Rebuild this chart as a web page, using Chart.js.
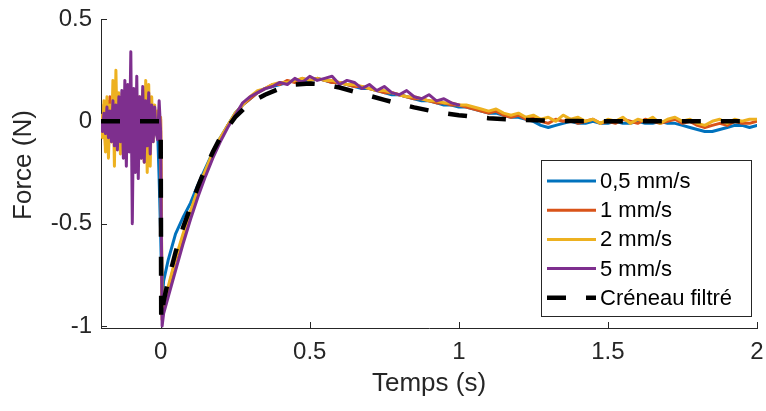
<!DOCTYPE html>
<html><head><meta charset="utf-8">
<script src="https://cdn.jsdelivr.net/npm/chart.js@4/dist/chart.umd.min.js"></script>
<style>html,body{margin:0;padding:0;background:#fff}#wrap{width:766px;height:411px}</style>
</head><body><div id="wrap"><canvas id="c" width="766" height="411"></canvas></div>
<script>
// ---- time axis (s) ----
const tPre = [-0.2,-0.195,-0.19,-0.185,-0.18,-0.175,-0.17,-0.165,-0.16,-0.155,
  -0.15,-0.145,-0.14,-0.135,-0.13,-0.125,-0.12,-0.115,-0.11,-0.105,
  -0.1,-0.095,-0.09,-0.085,-0.08,-0.075,-0.07,-0.065,-0.06,-0.055,
  -0.05,-0.045,-0.04,-0.035,-0.03,-0.025,-0.02,-0.015,-0.01,-0.005,
  0];
const tPost = [0.005,0.01,0.025,0.05,0.075,0.1,0.125,0.15,0.175,0.2,
  0.225,0.25,0.275,0.3,0.325,0.35,0.375,0.4,0.425,0.45,
  0.475,0.5,0.525,0.55,0.575,0.6,0.625,0.65,0.675,0.7,
  0.725,0.75,0.775,0.8,0.825,0.85,0.875,0.9,0.925,0.95,
  0.975,1.0,1.025,1.05,1.075,1.1,1.125,1.15,1.175,1.2,
  1.225,1.25,1.275,1.3,1.325,1.35,1.375,1.4,1.425,1.45,
  1.475,1.5,1.525,1.55,1.575,1.6,1.625,1.65,1.675,1.7,
  1.725,1.75,1.775,1.8,1.825,1.85,1.875,1.9,1.925,1.95,
  1.975,2.0];

// ---- force (N), 0,5 mm/s ----
const f05Pre = [0.01,-0.02,0.02,-0.03,0.02,-0.02,0.03,-0.02,0.02,-0.03,
  0.02,-0.02,0.01,-0.02,0.02,-0.01,0.02,-0.02,0.01,-0.02,
  0.02,-0.01,0.02,-0.02,0.01,-0.02,0.02,-0.01,0.01,-0.02,
  0.02,-0.01,0.01,-0.02,0.01,-0.01,0.01,-0.02,-0.05,-0.28,
  -0.55];
const f05Post = [-0.88,-0.78,-0.68,-0.55,-0.47,-0.40,-0.31,-0.23,-0.15,-0.08,
  -0.02,0.04,0.08,0.11,0.14,0.16,0.17,0.18,0.19,0.20,
  0.20,0.20,0.21,0.20,0.19,0.19,0.18,0.17,0.16,0.16,
  0.15,0.14,0.13,0.13,0.12,0.11,0.10,0.10,0.09,0.08,
  0.08,0.07,0.07,0.06,0.05,0.04,0.04,0.03,0.02,0.02,
  0.01,0.00,-0.02,-0.03,-0.02,-0.01,0.00,-0.01,-0.01,0.00,
  -0.01,-0.01,0.00,-0.01,-0.01,0.00,-0.01,-0.01,0.00,-0.01,
  -0.01,-0.02,-0.03,-0.04,-0.05,-0.05,-0.04,-0.03,-0.02,-0.02,
  -0.03,-0.02];

// ---- force (N), 1 mm/s ----
const f1Pre = [0.02,-0.06,0.08,-0.12,0.10,-0.14,0.12,-0.10,0.06,-0.08,
  0.08,-0.06,0.05,-0.07,0.06,-0.05,0.07,-0.06,0.05,-0.04,
  0.06,-0.05,0.04,-0.06,0.05,-0.04,0.06,-0.05,0.04,-0.03,
  0.05,-0.04,0.03,-0.05,0.04,-0.03,0.03,-0.02,0.02,-0.03,
  0.01];
const f1Post = [-0.97,-0.91,-0.82,-0.68,-0.57,-0.45,-0.34,-0.25,-0.16,-0.09,
  -0.02,0.03,0.08,0.11,0.14,0.16,0.18,0.18,0.20,0.19,
  0.21,0.20,0.21,0.20,0.19,0.19,0.18,0.17,0.17,0.16,
  0.15,0.14,0.14,0.13,0.12,0.11,0.11,0.10,0.09,0.09,
  0.08,0.08,0.07,0.06,0.05,0.04,0.05,0.03,0.02,0.03,
  0.01,0.02,0.00,-0.01,0.01,0.00,0.01,-0.01,0.00,0.01,
  -0.01,0.00,-0.01,0.01,0.00,-0.01,0.01,0.00,-0.01,0.00,
  0.01,-0.01,0.00,-0.02,-0.03,-0.02,-0.01,-0.02,0.00,-0.01,
  -0.01,0.00];

// ---- force (N), 2 mm/s ----
const f2Pre = [0.03,-0.08,0.10,-0.15,0.12,-0.18,0.08,-0.10,0.20,-0.22,
  0.25,-0.12,0.14,-0.16,0.10,-0.08,0.12,-0.14,0.15,-0.10,
  0.08,-0.12,0.14,-0.15,0.10,-0.08,0.12,-0.18,0.15,-0.20,
  0.20,-0.25,0.18,-0.22,0.12,-0.10,0.08,-0.06,0.05,-0.04,
  0.02];
const f2Post = [-0.95,-0.90,-0.81,-0.67,-0.55,-0.44,-0.33,-0.24,-0.15,-0.08,
  -0.02,0.04,0.08,0.12,0.15,0.16,0.18,0.19,0.19,0.20,
  0.21,0.20,0.21,0.20,0.20,0.19,0.18,0.18,0.17,0.16,
  0.15,0.15,0.14,0.13,0.12,0.12,0.11,0.10,0.10,0.09,
  0.09,0.08,0.08,0.07,0.06,0.05,0.06,0.04,0.03,0.04,
  0.02,0.03,0.01,0.02,0.00,0.03,0.01,0.02,0.00,0.01,
  -0.01,0.01,0.00,0.02,-0.01,0.01,0.00,0.02,-0.01,0.01,
  0.02,0.00,0.01,-0.01,-0.02,0.00,0.01,-0.01,0.01,0.00,
  0.01,0.01];

// ---- force (N), 5 mm/s (recorded up to 1 s) ----
const f5Pre = [0.00,-0.05,0.04,-0.06,0.07,-0.08,0.05,-0.10,0.10,-0.12,
  0.08,-0.14,0.12,-0.10,0.15,-0.18,0.20,-0.22,0.18,-0.15,
  0.34,-0.50,0.16,-0.25,0.22,-0.28,0.12,-0.18,0.17,-0.20,
  0.10,-0.12,0.14,-0.16,0.08,-0.10,0.07,-0.06,-0.09,0.10,
  -0.05];
const f5Post = [-1.00,-0.94,-0.86,-0.73,-0.60,-0.48,-0.37,-0.27,-0.18,-0.10,
  -0.03,0.03,0.09,0.12,0.14,0.16,0.17,0.19,0.18,0.21,
  0.19,0.22,0.20,0.21,0.22,0.18,0.20,0.19,0.16,0.18,
  0.15,0.17,0.14,0.13,0.15,0.12,0.11,0.13,0.10,0.11,
  0.09,0.08];

// ---- filtered step (Créneau filtré) ----
const tFilt = [-0.2,0,0.002,0.01,0.025,0.05,0.075,0.1,0.125,0.15,
  0.175,0.2,0.25,0.3,0.35,0.4,0.45,0.5,0.55,0.6,
  0.65,0.7,0.75,0.8,0.85,0.9,0.95,1.0,1.05,1.1,
  1.2,1.3,1.4,1.5,2.0];
const fFilt = [0,0,-0.97,-0.88,-0.78,-0.64,-0.52,-0.42,-0.32,-0.23,
  -0.15,-0.08,0.02,0.09,0.13,0.16,0.18,0.185,0.18,0.165,
  0.145,0.125,0.105,0.085,0.068,0.053,0.04,0.03,0.022,0.015,
  0.007,0.003,0.001,0,0];

const seriesLabels = ['0,5 mm/s','1 mm/s','2 mm/s','5 mm/s','Créneau filtré'];
const xTicks = [0,0.5,1,1.5,2];
const yTicks = [-1,-0.5,0,0.5];
const xTitle = 'Temps (s)';
const yTitle = 'Force (N)';

const FONT = '"Liberation Sans", Arial, Helvetica, sans-serif';
const AXC = '#262626';
const time = tPre.concat(tPost);
function pts(xs, ys){ return xs.map((x,i)=>({x:x, y:(i<ys.length ? ys[i] : null)})); }

const solid = (label,color,ys,order)=>({label:label, data:pts(time,ys), borderColor:color, backgroundColor:color,
  borderWidth:3, pointRadius:0, tension:0, fill:false, spanGaps:false, order:order,
  borderJoinStyle:'round', borderCapStyle:'round'});

const datasets = [
  solid(seriesLabels[0],'#0072BD',f05Pre.concat(f05Post),5),
  solid(seriesLabels[1],'#D95319',f1Pre.concat(f1Post),4),
  solid(seriesLabels[2],'#EDB120',f2Pre.concat(f2Post),3),
  solid(seriesLabels[3],'#7E2F8E',f5Pre.concat(f5Post),2),
  {label:seriesLabels[4], data:pts(tFilt,fFilt), borderColor:'#000000', backgroundColor:'#000000',
   borderWidth:4.5, borderDash:[19,20], borderCapStyle:'butt', pointRadius:0, tension:0, fill:false, order:1}
];

const decor = {
  id:'decor',
  beforeDatasetsDraw(chart){
    const ctx=chart.ctx, xs=chart.scales.x, ys=chart.scales.y, ca=chart.chartArea;
    ctx.save();
    ctx.strokeStyle=AXC; ctx.lineWidth=1;
    yTicks.forEach(v=>{const p=Math.round(ys.getPixelForValue(v))+0.5;
      ctx.beginPath(); ctx.moveTo(ca.left,p); ctx.lineTo(ca.left+6,p); ctx.stroke();});
    xTicks.forEach(v=>{const p=Math.round(xs.getPixelForValue(v))+0.5;
      ctx.beginPath(); ctx.moveTo(p,ca.bottom); ctx.lineTo(p,ca.bottom-6); ctx.stroke();});
    ctx.fillStyle=AXC; ctx.font='26px '+FONT; ctx.textAlign='center'; ctx.textBaseline='middle';
    ctx.fillText(xTitle,(ca.left+ca.right)/2,384);
    ctx.translate(24,165); ctx.rotate(-Math.PI/2); ctx.fillText(yTitle,0,0);
    ctx.restore();
  },
  afterDraw(chart){
    const ctx=chart.ctx;
    const bx=541, by=160, bw=211, bh=157;
    ctx.save();
    ctx.fillStyle='#ffffff'; ctx.fillRect(bx,by,bw,bh);
    ctx.strokeStyle=AXC; ctx.lineWidth=1; ctx.strokeRect(bx+0.5,by+0.5,bw-1,bh-1);
    ctx.font='22px '+FONT; ctx.textBaseline='middle'; ctx.textAlign='left';
    chart.data.datasets.forEach((ds,i)=>{
      const y = 181 + i*29.2;
      ctx.strokeStyle=ds.borderColor; ctx.lineWidth=ds.borderWidth;
      ctx.setLineDash(ds.borderDash||[]); ctx.lineCap='butt';
      ctx.beginPath(); ctx.moveTo(547,y); ctx.lineTo(596,y); ctx.stroke();
      ctx.setLineDash([]);
      ctx.fillStyle='#000000'; ctx.fillText(ds.label,600,y+1);
    });
    ctx.restore();
  }
};

new Chart(document.getElementById('c'), {
  type:'line',
  data:{datasets:datasets},
  options:{
    responsive:false, animation:false, devicePixelRatio:1,
    layout:{padding:{left:0,right:9,top:19,bottom:0}},
    plugins:{legend:{display:false}, tooltip:{enabled:false}, title:{display:false}},
    scales:{
      x:{type:'linear', min:-0.2, max:2,
        afterBuildTicks(s){ s.ticks = xTicks.map(v=>({value:v})); },
        afterFit(s){ s.height = 83; s.paddingRight = 0; s.paddingLeft = 0; },
        grid:{display:false, drawTicks:false},
        border:{display:true, color:AXC, width:1},
        ticks:{padding:10, color:AXC, font:{family:FONT,size:24}, maxRotation:0, autoSkip:false,
          callback:(v)=>String(v)}
      },
      y:{type:'linear', min:-1.01, max:0.5,
        afterBuildTicks(s){ s.ticks = yTicks.map(v=>({value:v})); },
        afterFit(s){ s.width = 101; s.paddingTop = 0; s.paddingBottom = 0; },
        grid:{display:false, drawTicks:false},
        border:{display:true, color:AXC, width:1},
        ticks:{padding:9, color:AXC, font:{family:FONT,size:24}, autoSkip:false,
          callback:(v)=>String(v)}
      }
    }
  },
  plugins:[decor]
});
</script>
</body></html>
